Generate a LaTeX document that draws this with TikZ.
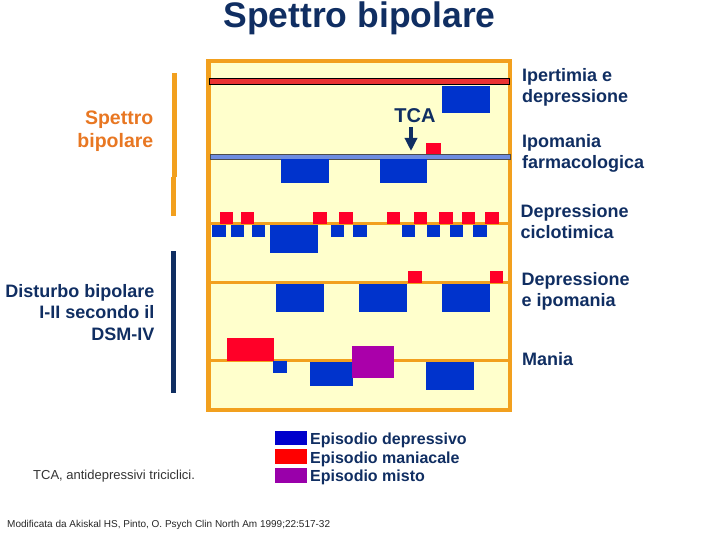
\documentclass[tikz,border=0pt]{standalone}
\usepackage{fontspec}
\setmainfont{Liberation Sans}
\usetikzlibrary{arrows.meta}
\definecolor{navy}{RGB}{16,46,98}
\definecolor{frameor}{RGB}{242,160,30}
\definecolor{textor}{RGB}{232,119,34}
\definecolor{paper}{RGB}{255,255,204}
\definecolor{depblue}{RGB}{0,51,204}
\definecolor{manred}{RGB}{255,0,40}
\definecolor{mixmag}{RGB}{170,0,170}
\definecolor{redbar}{RGB}{235,50,50}
\definecolor{bluebar}{RGB}{110,140,225}
\definecolor{legblue}{RGB}{0,0,204}
\definecolor{legred}{RGB}{255,0,0}
\definecolor{legmag}{RGB}{153,0,170}
\begin{document}
\begin{tikzpicture}[x=1pt,y=-1pt,
  lbl/.style={inner sep=0pt,text=navy,font=\fontsize{18}{21}\selectfont\bfseries},
  lblL/.style={lbl,anchor=base east},
  lblR/.style={lbl,anchor=base west},
  orlbl/.style={lblL,text=textor,font=\fontsize{19.5}{23}\selectfont\bfseries},
  dep/.style={fill=depblue},
  man/.style={fill=manred},
  mix/.style={fill=mixmag},
  axis/.style={draw=frameor,line width=3.5pt},
  legtxt/.style={inner sep=0pt,anchor=base west,text=navy,font=\fontsize{16}{18}\selectfont\bfseries}]
\useasboundingbox (0,0) rectangle (720,540);
% title
\node[inner sep=0pt,anchor=base,text=navy,font=\fontsize{35.5}{40}\selectfont\bfseries] (title) at (359.5,28) {Spettro bipolare};
% frame
\draw[draw=frameor,fill=paper,line width=4.5pt] (208.5,61) rectangle (510,410);
% row 1: Ipertimia e depressione
\draw[fill=redbar,draw=black,line width=0.8pt] (209,78) rectangle (509,84);
\fill[dep] (442,86) rectangle (490,113);
% row 2: Ipomania farmacologica
\fill[man] (426,143) rectangle (441,155);
\draw[fill=bluebar,draw=black!70,line width=0.8pt] (210,154) rectangle (510,159);
\fill[dep] (281,159) rectangle (329,183);
\fill[dep] (380,159) rectangle (427,183);
\node[inner sep=0pt,anchor=base,text=navy,font=\fontsize{20}{24}\selectfont\bfseries] (tca) at (415,123) {TCA};
\coordinate (tcatip) at (411,151);
\draw[navy,line width=4pt,-{Triangle[width=12pt,length=13pt]}] (411,127) -- (tcatip);
% row 3: Depressione ciclotimica
\draw[axis] (209,223.5) -- (510,223.5);
\foreach \a/\b in {220/233,241/254,313/327,339/353,387/400,414/427,439/453,462/475,485/499}
  \fill[man] (\a,212) rectangle (\b,224);
\foreach \a/\b in {212/226,231/244,252/265,331/344,353/367,402/415,427/440,450/463,473/487}
  \fill[dep] (\a,225) rectangle (\b,237);
\fill[dep] (270,225) rectangle (318,253);
% row 4: Depressione e ipomania
\draw[axis] (209,282.5) -- (510,282.5);
\fill[man] (408,271) rectangle (422,283);
\fill[man] (490,271) rectangle (503,283);
\foreach \a/\b in {276/324,359/407,442/490}
  \fill[dep] (\a,284) rectangle (\b,312);
% row 5: Mania
\draw[axis] (209,360.5) -- (510,360.5);
\fill[man] (227,338) rectangle (274,361);
\fill[dep] (273,361) rectangle (287,373);
\fill[dep] (310,362) rectangle (353,386);
\fill[mix] (352,346) rectangle (394,378);
\fill[dep] (426,362) rectangle (474,390);
% left brackets
\draw[frameor,line width=5pt] (174.5,73) -- (174.5,177);
\draw[frameor,line width=5pt] (173.5,177) -- (173.5,216);
\draw[navy,line width=5pt] (173.5,251) -- (173.5,393);
% left labels
\node[orlbl] (sb1) at (153.5,125) {Spettro};
\node[orlbl] (sb2) at (153.5,147.5) {bipolare};
\node[lblL] (db1) at (154.5,297) {Disturbo bipolare};
\node[lblL] (db2) at (154.5,318.5) {I-II secondo il};
\node[lblL] (db3) at (154.5,340) {DSM-IV};
% right labels
\node[lblR] (r1a) at (522,82) {Ipertimia e};
\node[lblR] (r1b) at (522,103) {depressione};
\node[lblR] (r2a) at (522,148) {Ipomania};
\node[lblR] (r2b) at (522,169) {farmacologica};
\node[lblR] (r3a) at (520.5,218) {Depressione};
\node[lblR] (r3b) at (520.5,239) {ciclotimica};
\node[lblR] (r4a) at (521.5,285) {Depressione};
\node[lblR] (r4b) at (521.5,306.5) {e ipomania};
\node[lblR] (r5) at (522,365) {Mania};
% legend
\fill[legblue] (275,431) rectangle (307,445);
\fill[legred] (275,449) rectangle (307,464);
\fill[legmag] (275,468) rectangle (307,483);
\node[legtxt] (l1) at (310,444.5) {Episodio depressivo};
\node[legtxt] (l2) at (310,463) {Episodio maniacale};
\node[legtxt] (l3) at (310,481.5) {Episodio misto};
% notes
\node[inner sep=0pt,anchor=base west,text=black!80,font=\fontsize{13}{15}\selectfont] (note) at (33,479) {TCA, antidepressivi triciclici.};
\node[inner sep=0pt,anchor=base west,text=black!85,font=\fontsize{10}{12}\selectfont] (src) at (7,527) {Modificata da Akiskal HS, Pinto, O. Psych Clin North Am 1999;22:517-32};
\end{tikzpicture}
\end{document}
